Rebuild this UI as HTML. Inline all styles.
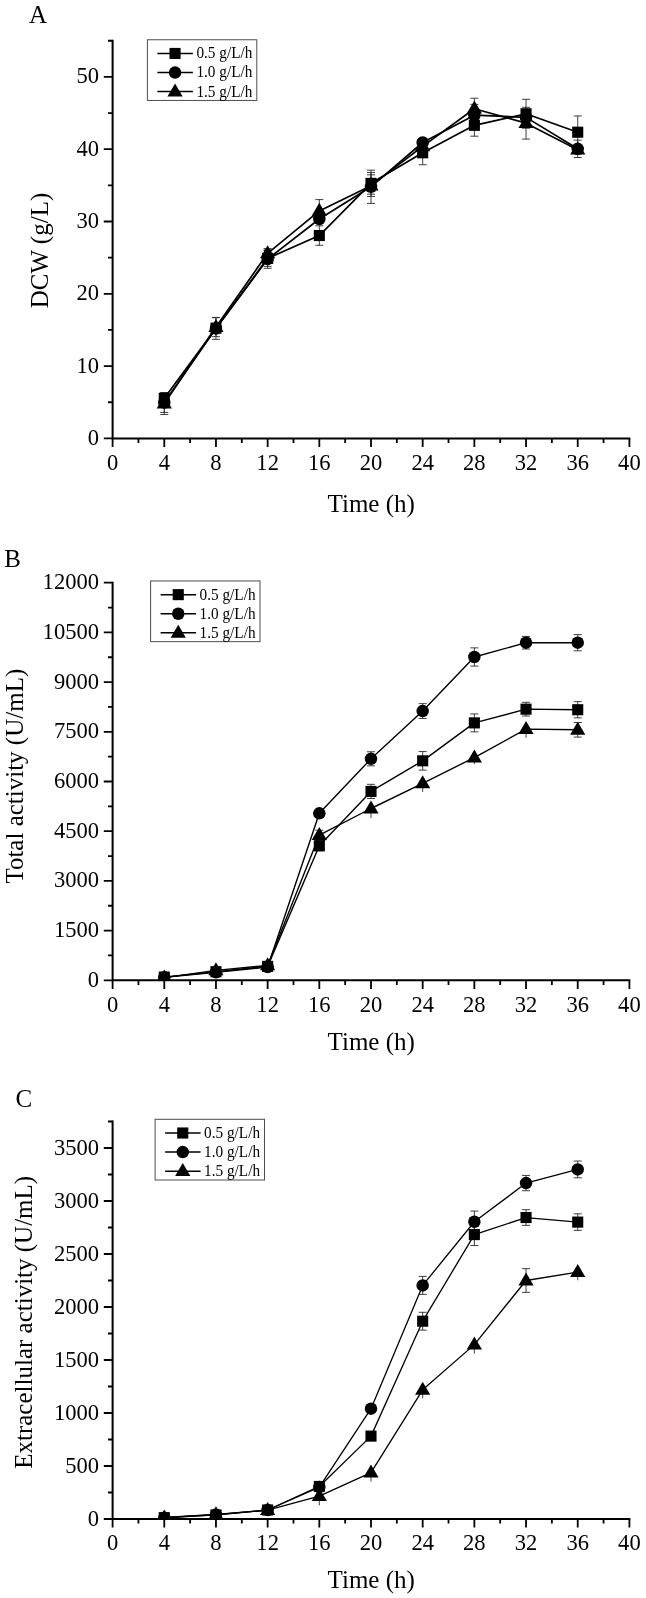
<!DOCTYPE html>
<html><head><meta charset="utf-8"><title>Figure</title>
<style>
html,body{margin:0;padding:0;background:#fff;}
body{width:646px;height:1598px;overflow:hidden;font-family:"Liberation Serif",serif;}
svg{display:block;filter:grayscale(1);}
text{font-family:"Liberation Serif",serif;fill:#000;}
.tk{font-size:24px;}
.ax{stroke:#000;stroke-width:2;fill:none;}
.ln{stroke:#000;fill:none;stroke-linejoin:round;}
.eb{stroke:#2a2a2a;stroke-width:0.9;fill:none;}
.lg{font-size:15.9px;}
.al{font-size:25px;}
.lt{font-size:25px;}
</style></head><body>
<svg width="646" height="1598" viewBox="0 0 646 1598">
<rect width="646" height="1598" fill="#fff"/>
<!-- chart A -->
<clipPath id="cp0"><rect x="112.60" y="20.75" width="526.80" height="418.25"/></clipPath>
<text class="lt" x="29.0" y="23.3">A</text>
<g clip-path="url(#cp0)">
<path class="eb" d="M164.28 394.66V401.89M160.28 394.66h8M160.28 401.89h8M215.96 324.53V331.76M211.96 324.53h8M211.96 331.76h8M267.64 250.42V266.33M263.64 250.42h8M263.64 266.33h8M319.32 225.77V245.29M315.32 225.77h8M315.32 245.29h8M371.00 172.48V194.17M367.00 172.48h8M367.00 194.17h8M422.68 140.89V164.74M418.68 140.89h8M418.68 164.74h8M474.36 114.50V136.19M470.36 114.50h8M470.36 136.19h8M526.04 99.31V128.23M522.04 99.31h8M522.04 128.23h8M577.72 115.94V148.48M573.72 115.94h8M573.72 148.48h8M164.28 392.49V412.44M160.28 392.49h8M160.28 412.44h8M215.96 317.66V339.35M211.96 317.66h8M211.96 339.35h8M267.64 249.91V268.28M263.64 249.91h8M263.64 268.28h8M319.32 215.35V222.58M315.32 215.35h8M315.32 222.58h8M371.00 170.17V203.42M367.00 170.17h8M367.00 203.42h8M422.68 138.86V146.09M418.68 138.86h8M418.68 146.09h8M474.36 104.37V126.06M470.36 104.37h8M470.36 126.06h8M526.04 113.77V121.00M522.04 113.77h8M522.04 121.00h8M577.72 140.16V157.51M573.72 140.16h8M573.72 157.51h8M164.28 392.78V414.47M160.28 392.78h8M160.28 414.47h8M215.96 317.44V336.67M211.96 317.44h8M211.96 336.67h8M267.64 248.61V258.01M263.64 248.61h8M263.64 258.01h8M319.32 199.59V222.30M315.32 199.59h8M315.32 222.30h8M371.00 174.79V196.48M367.00 174.79h8M367.00 196.48h8M422.68 142.69V149.92M418.68 142.69h8M418.68 149.92h8M474.36 98.23V119.20M470.36 98.23h8M470.36 119.20h8M526.04 107.27V139.08M522.04 107.27h8M522.04 139.08h8M577.72 145.37V154.04M573.72 145.37h8M573.72 154.04h8"/>
<polyline class="ln" stroke-width="1.7" points="164.28,398.27 215.96,328.14 267.64,258.37 319.32,235.53 371.00,183.33 422.68,152.81 474.36,125.34 526.04,113.77 577.72,132.21"/>
<polyline class="ln" stroke-width="1.7" points="164.28,402.47 215.96,328.50 267.64,259.10 319.32,218.97 371.00,186.80 422.68,142.48 474.36,115.22 526.04,117.39 577.72,148.84"/>
<polyline class="ln" stroke-width="1.7" points="164.28,403.62 215.96,327.06 267.64,253.31 319.32,210.94 371.00,185.64 422.68,146.31 474.36,108.71 526.04,123.17 577.72,149.71"/>
<g><rect x="158.73" y="392.72" width="11.10" height="11.10"/><rect x="210.41" y="322.59" width="11.10" height="11.10"/><rect x="262.09" y="252.82" width="11.10" height="11.10"/><rect x="313.77" y="229.98" width="11.10" height="11.10"/><rect x="365.45" y="177.78" width="11.10" height="11.10"/><rect x="417.13" y="147.26" width="11.10" height="11.10"/><rect x="468.81" y="119.79" width="11.10" height="11.10"/><rect x="520.49" y="108.22" width="11.10" height="11.10"/><rect x="572.17" y="126.66" width="11.10" height="11.10"/></g>
<g><circle cx="164.28" cy="402.47" r="6.25"/><circle cx="215.96" cy="328.50" r="6.25"/><circle cx="267.64" cy="259.10" r="6.25"/><circle cx="319.32" cy="218.97" r="6.25"/><circle cx="371.00" cy="186.80" r="6.25"/><circle cx="422.68" cy="142.48" r="6.25"/><circle cx="474.36" cy="115.22" r="6.25"/><circle cx="526.04" cy="117.39" r="6.25"/><circle cx="577.72" cy="148.84" r="6.25"/></g>
<g><path d="M164.28 395.52L171.88 408.52H156.68Z"/><path d="M215.96 318.96L223.56 331.96H208.36Z"/><path d="M267.64 245.21L275.24 258.21H260.04Z"/><path d="M319.32 202.84L326.92 215.84H311.72Z"/><path d="M371.00 177.54L378.60 190.54H363.40Z"/><path d="M422.68 138.21L430.28 151.21H415.08Z"/><path d="M474.36 100.61L481.96 113.61H466.76Z"/><path d="M526.04 115.07L533.64 128.07H518.44Z"/><path d="M577.72 141.61L585.32 154.61H570.12Z"/></g>
</g>
<path class="ax" d="M112.60 39.85V439.40 M111.60 438.40H630.30"/>
<path class="ax" stroke-width="1.8" style="stroke-width:1.8" d="M112.60 438.40h-8.8 M112.60 366.10h-8.8 M112.60 293.80h-8.8 M112.60 221.50h-8.8 M112.60 149.20h-8.8 M112.60 76.90h-8.8 M112.60 402.25h-4.6 M112.60 329.95h-4.6 M112.60 257.65h-4.6 M112.60 185.35h-4.6 M112.60 113.05h-4.6 M112.60 40.75h-4.6 M112.60 438.40v8.6 M164.28 438.40v8.6 M215.96 438.40v8.6 M267.64 438.40v8.6 M319.32 438.40v8.6 M371.00 438.40v8.6 M422.68 438.40v8.6 M474.36 438.40v8.6 M526.04 438.40v8.6 M577.72 438.40v8.6 M629.40 438.40v8.6 M138.44 438.40v4.6 M190.12 438.40v4.6 M241.80 438.40v4.6 M293.48 438.40v4.6 M345.16 438.40v4.6 M396.84 438.40v4.6 M448.52 438.40v4.6 M500.20 438.40v4.6 M551.88 438.40v4.6 M603.56 438.40v4.6"/>
<text class="tk" transform="translate(99.0,444.90) scale(0.94,1)" text-anchor="end">0</text>
<text class="tk" transform="translate(99.0,372.60) scale(0.94,1)" text-anchor="end">10</text>
<text class="tk" transform="translate(99.0,300.30) scale(0.94,1)" text-anchor="end">20</text>
<text class="tk" transform="translate(99.0,228.00) scale(0.94,1)" text-anchor="end">30</text>
<text class="tk" transform="translate(99.0,155.70) scale(0.94,1)" text-anchor="end">40</text>
<text class="tk" transform="translate(99.0,83.40) scale(0.94,1)" text-anchor="end">50</text>
<text class="tk" transform="translate(112.60,469.70) scale(0.94,1)" text-anchor="middle">0</text>
<text class="tk" transform="translate(164.28,469.70) scale(0.94,1)" text-anchor="middle">4</text>
<text class="tk" transform="translate(215.96,469.70) scale(0.94,1)" text-anchor="middle">8</text>
<text class="tk" transform="translate(267.64,469.70) scale(0.94,1)" text-anchor="middle">12</text>
<text class="tk" transform="translate(319.32,469.70) scale(0.94,1)" text-anchor="middle">16</text>
<text class="tk" transform="translate(371.00,469.70) scale(0.94,1)" text-anchor="middle">20</text>
<text class="tk" transform="translate(422.68,469.70) scale(0.94,1)" text-anchor="middle">24</text>
<text class="tk" transform="translate(474.36,469.70) scale(0.94,1)" text-anchor="middle">28</text>
<text class="tk" transform="translate(526.04,469.70) scale(0.94,1)" text-anchor="middle">32</text>
<text class="tk" transform="translate(577.72,469.70) scale(0.94,1)" text-anchor="middle">36</text>
<text class="tk" transform="translate(629.40,469.70) scale(0.94,1)" text-anchor="middle">40</text>
<text class="al" x="371.2" y="511.6" text-anchor="middle">Time (h)</text>
<text class="al" transform="translate(47.7,250.5) rotate(-90)" text-anchor="middle">DCW (g/L)</text>
<rect x="147.4" y="39.75" width="109.4" height="60.7" fill="#fff" stroke="#4d4d4d" stroke-width="1"/>
<path class="ln" stroke-width="1.5" d="M157.40 53.45h35.5"/>
<rect x="169.50" y="47.90" width="11.10" height="11.10"/>
<text class="lg" transform="translate(196.40,58.35) scale(0.96,1)">0.5 g/L/h</text>
<path class="ln" stroke-width="1.5" d="M157.40 72.55h35.5"/>
<circle cx="175.05" cy="72.55" r="6.25"/>
<text class="lg" transform="translate(196.40,77.45) scale(0.96,1)">1.0 g/L/h</text>
<path class="ln" stroke-width="1.5" d="M157.40 91.60h35.5"/>
<path d="M175.05 83.50L182.65 96.50H167.45Z"/>
<text class="lg" transform="translate(196.40,96.50) scale(0.96,1)">1.5 g/L/h</text>
<!-- chart B -->
<clipPath id="cp1"><rect x="112.60" y="562.70" width="526.80" height="418.20"/></clipPath>
<text class="lt" x="4.2" y="567.1">B</text>
<g clip-path="url(#cp1)">
<path class="eb" d="M319.32 840.84V850.78M315.32 840.84h8M315.32 850.78h8M371.00 784.32V798.50M367.00 784.32h8M367.00 798.50h8M422.68 751.55V770.10M418.68 751.55h8M418.68 770.10h8M474.36 713.94V731.83M470.36 713.94h8M470.36 731.83h8M526.04 702.31V716.03M522.04 702.31h8M522.04 716.03h8M577.72 701.62V717.85M573.72 701.62h8M573.72 717.85h8M371.00 751.78V765.83M367.00 751.78h8M367.00 765.83h8M422.68 703.64V718.48M418.68 703.64h8M418.68 718.48h8M474.36 647.87V666.10M470.36 647.87h8M470.36 666.10h8M526.04 636.41V649.00M522.04 636.41h8M522.04 649.00h8M577.72 634.59V650.82M573.72 634.59h8M573.72 650.82h8M319.32 830.24V840.18M315.32 830.24h8M315.32 840.18h8M371.00 808.50V818.11M422.68 783.32V791.94M474.36 757.54V764.17M526.04 729.15V737.76M577.72 722.52V737.10M573.72 722.52h8M573.72 737.10h8"/>
<polyline class="ln" stroke-width="1.4" points="164.28,977.09 215.96,971.69 267.64,966.38 319.32,845.81 371.00,791.41 422.68,760.82 474.36,722.89 526.04,709.17 577.72,709.73"/>
<polyline class="ln" stroke-width="1.4" points="164.28,977.32 215.96,972.35 267.64,967.05 319.32,813.31 371.00,758.80 422.68,711.06 474.36,656.98 526.04,642.70 577.72,642.70"/>
<polyline class="ln" stroke-width="1.4" points="164.28,977.65 215.96,970.36 267.64,965.39 319.32,835.21 371.00,808.50 422.68,783.32 474.36,757.54 526.04,729.15 577.72,729.81"/>
<g><rect x="158.73" y="971.54" width="11.10" height="11.10"/><rect x="210.41" y="966.14" width="11.10" height="11.10"/><rect x="262.09" y="960.83" width="11.10" height="11.10"/><rect x="313.77" y="840.26" width="11.10" height="11.10"/><rect x="365.45" y="785.86" width="11.10" height="11.10"/><rect x="417.13" y="755.27" width="11.10" height="11.10"/><rect x="468.81" y="717.34" width="11.10" height="11.10"/><rect x="520.49" y="703.62" width="11.10" height="11.10"/><rect x="572.17" y="704.18" width="11.10" height="11.10"/></g>
<g><circle cx="164.28" cy="977.32" r="6.25"/><circle cx="215.96" cy="972.35" r="6.25"/><circle cx="267.64" cy="967.05" r="6.25"/><circle cx="319.32" cy="813.31" r="6.25"/><circle cx="371.00" cy="758.80" r="6.25"/><circle cx="422.68" cy="711.06" r="6.25"/><circle cx="474.36" cy="656.98" r="6.25"/><circle cx="526.04" cy="642.70" r="6.25"/><circle cx="577.72" cy="642.70" r="6.25"/></g>
<g><path d="M164.28 969.55L171.88 982.55H156.68Z"/><path d="M215.96 962.26L223.56 975.26H208.36Z"/><path d="M267.64 957.29L275.24 970.29H260.04Z"/><path d="M319.32 827.11L326.92 840.11H311.72Z"/><path d="M371.00 800.40L378.60 813.40H363.40Z"/><path d="M422.68 775.22L430.28 788.22H415.08Z"/><path d="M474.36 749.44L481.96 762.44H466.76Z"/><path d="M526.04 721.05L533.64 734.05H518.44Z"/><path d="M577.72 721.71L585.32 734.71H570.12Z"/></g>
</g>
<path class="ax" d="M112.60 581.80V981.30 M111.60 980.30H630.30"/>
<path class="ax" stroke-width="1.8" style="stroke-width:1.8" d="M112.60 980.30h-8.8 M112.60 930.60h-8.8 M112.60 880.90h-8.8 M112.60 831.20h-8.8 M112.60 781.50h-8.8 M112.60 731.80h-8.8 M112.60 682.10h-8.8 M112.60 632.40h-8.8 M112.60 582.70h-8.8 M112.60 955.45h-4.6 M112.60 905.75h-4.6 M112.60 856.05h-4.6 M112.60 806.35h-4.6 M112.60 756.65h-4.6 M112.60 706.95h-4.6 M112.60 657.25h-4.6 M112.60 607.55h-4.6 M112.60 980.30v8.6 M164.28 980.30v8.6 M215.96 980.30v8.6 M267.64 980.30v8.6 M319.32 980.30v8.6 M371.00 980.30v8.6 M422.68 980.30v8.6 M474.36 980.30v8.6 M526.04 980.30v8.6 M577.72 980.30v8.6 M629.40 980.30v8.6 M138.44 980.30v4.6 M190.12 980.30v4.6 M241.80 980.30v4.6 M293.48 980.30v4.6 M345.16 980.30v4.6 M396.84 980.30v4.6 M448.52 980.30v4.6 M500.20 980.30v4.6 M551.88 980.30v4.6 M603.56 980.30v4.6"/>
<text class="tk" transform="translate(99.0,986.80) scale(0.94,1)" text-anchor="end">0</text>
<text class="tk" transform="translate(99.0,937.10) scale(0.94,1)" text-anchor="end">1500</text>
<text class="tk" transform="translate(99.0,887.40) scale(0.94,1)" text-anchor="end">3000</text>
<text class="tk" transform="translate(99.0,837.70) scale(0.94,1)" text-anchor="end">4500</text>
<text class="tk" transform="translate(99.0,788.00) scale(0.94,1)" text-anchor="end">6000</text>
<text class="tk" transform="translate(99.0,738.30) scale(0.94,1)" text-anchor="end">7500</text>
<text class="tk" transform="translate(99.0,688.60) scale(0.94,1)" text-anchor="end">9000</text>
<text class="tk" transform="translate(99.0,638.90) scale(0.94,1)" text-anchor="end">10500</text>
<text class="tk" transform="translate(99.0,589.20) scale(0.94,1)" text-anchor="end">12000</text>
<text class="tk" transform="translate(112.60,1011.60) scale(0.94,1)" text-anchor="middle">0</text>
<text class="tk" transform="translate(164.28,1011.60) scale(0.94,1)" text-anchor="middle">4</text>
<text class="tk" transform="translate(215.96,1011.60) scale(0.94,1)" text-anchor="middle">8</text>
<text class="tk" transform="translate(267.64,1011.60) scale(0.94,1)" text-anchor="middle">12</text>
<text class="tk" transform="translate(319.32,1011.60) scale(0.94,1)" text-anchor="middle">16</text>
<text class="tk" transform="translate(371.00,1011.60) scale(0.94,1)" text-anchor="middle">20</text>
<text class="tk" transform="translate(422.68,1011.60) scale(0.94,1)" text-anchor="middle">24</text>
<text class="tk" transform="translate(474.36,1011.60) scale(0.94,1)" text-anchor="middle">28</text>
<text class="tk" transform="translate(526.04,1011.60) scale(0.94,1)" text-anchor="middle">32</text>
<text class="tk" transform="translate(577.72,1011.60) scale(0.94,1)" text-anchor="middle">36</text>
<text class="tk" transform="translate(629.40,1011.60) scale(0.94,1)" text-anchor="middle">40</text>
<text class="al" x="371.2" y="1050.4" text-anchor="middle">Time (h)</text>
<text class="al" transform="translate(23.25,776.2) rotate(-90)" text-anchor="middle">Total activity (U/mL)</text>
<rect x="150.6" y="580.95" width="109.4" height="60.7" fill="#fff" stroke="#4d4d4d" stroke-width="1"/>
<path class="ln" stroke-width="1.5" d="M160.60 594.65h35.5"/>
<rect x="172.70" y="589.10" width="11.10" height="11.10"/>
<text class="lg" transform="translate(199.60,599.55) scale(0.96,1)">0.5 g/L/h</text>
<path class="ln" stroke-width="1.5" d="M160.60 613.75h35.5"/>
<circle cx="178.25" cy="613.75" r="6.25"/>
<text class="lg" transform="translate(199.60,618.65) scale(0.96,1)">1.0 g/L/h</text>
<path class="ln" stroke-width="1.5" d="M160.60 632.80h35.5"/>
<path d="M178.25 624.70L185.85 637.70H170.65Z"/>
<text class="lg" transform="translate(199.60,637.70) scale(0.96,1)">1.5 g/L/h</text>
<!-- chart C -->
<clipPath id="cp2"><rect x="112.60" y="1101.50" width="526.80" height="418.10"/></clipPath>
<text class="lt" x="15.5" y="1107.2">C</text>
<g clip-path="url(#cp2)">
<path class="eb" d="M422.68 1312.30V1330.11M418.68 1312.30h8M418.68 1330.11h8M474.36 1223.68V1245.52M470.36 1223.68h8M470.36 1245.52h8M526.04 1209.69V1225.38M522.04 1209.69h8M522.04 1225.38h8M577.72 1213.83V1230.36M573.72 1213.83h8M573.72 1230.36h8M422.68 1276.37V1294.39M418.68 1276.37h8M418.68 1294.39h8M474.36 1211.07V1232.48M470.36 1211.07h8M470.36 1232.48h8M526.04 1175.45V1190.72M522.04 1175.45h8M522.04 1190.72h8M577.72 1161.04V1177.79M573.72 1161.04h8M573.72 1177.79h8M319.32 1496.10V1505.33M371.00 1472.57V1481.58M422.68 1389.79V1398.27M474.36 1344.63V1353.64M526.04 1268.63V1292.37M522.04 1268.63h8M522.04 1292.37h8M577.72 1272.02V1280.29"/>
<polyline class="ln" stroke-width="1.3" points="164.28,1517.62 215.96,1514.97 267.64,1509.99 319.32,1486.46 371.00,1436.11 422.68,1321.20 474.36,1234.60 526.04,1217.54 577.72,1222.09"/>
<polyline class="ln" stroke-width="1.3" points="164.28,1517.73 215.96,1514.76 267.64,1509.99 319.32,1487.09 371.00,1408.65 422.68,1285.38 474.36,1221.78 526.04,1183.09 577.72,1169.41"/>
<polyline class="ln" stroke-width="1.3" points="164.28,1517.52 215.96,1514.44 267.64,1510.20 319.32,1496.10 371.00,1472.57 422.68,1389.79 474.36,1344.63 526.04,1280.50 577.72,1272.02"/>
<g><rect x="158.73" y="1512.07" width="11.10" height="11.10"/><rect x="210.41" y="1509.42" width="11.10" height="11.10"/><rect x="262.09" y="1504.44" width="11.10" height="11.10"/><rect x="313.77" y="1480.91" width="11.10" height="11.10"/><rect x="365.45" y="1430.56" width="11.10" height="11.10"/><rect x="417.13" y="1315.65" width="11.10" height="11.10"/><rect x="468.81" y="1229.05" width="11.10" height="11.10"/><rect x="520.49" y="1211.99" width="11.10" height="11.10"/><rect x="572.17" y="1216.54" width="11.10" height="11.10"/></g>
<g><circle cx="164.28" cy="1517.73" r="6.25"/><circle cx="215.96" cy="1514.76" r="6.25"/><circle cx="267.64" cy="1509.99" r="6.25"/><circle cx="319.32" cy="1487.09" r="6.25"/><circle cx="371.00" cy="1408.65" r="6.25"/><circle cx="422.68" cy="1285.38" r="6.25"/><circle cx="474.36" cy="1221.78" r="6.25"/><circle cx="526.04" cy="1183.09" r="6.25"/><circle cx="577.72" cy="1169.41" r="6.25"/></g>
<g><path d="M164.28 1509.42L171.88 1522.42H156.68Z"/><path d="M215.96 1506.34L223.56 1519.34H208.36Z"/><path d="M267.64 1502.10L275.24 1515.10H260.04Z"/><path d="M319.32 1488.00L326.92 1501.00H311.72Z"/><path d="M371.00 1464.47L378.60 1477.47H363.40Z"/><path d="M422.68 1381.69L430.28 1394.69H415.08Z"/><path d="M474.36 1336.53L481.96 1349.53H466.76Z"/><path d="M526.04 1272.40L533.64 1285.40H518.44Z"/><path d="M577.72 1263.92L585.32 1276.92H570.12Z"/></g>
</g>
<path class="ax" d="M112.60 1120.60V1520.00 M111.60 1519.00H630.30"/>
<path class="ax" stroke-width="1.8" style="stroke-width:1.8" d="M112.60 1519.00h-8.8 M112.60 1466.00h-8.8 M112.60 1413.00h-8.8 M112.60 1360.00h-8.8 M112.60 1307.00h-8.8 M112.60 1254.00h-8.8 M112.60 1201.00h-8.8 M112.60 1148.00h-8.8 M112.60 1492.50h-4.6 M112.60 1439.50h-4.6 M112.60 1386.50h-4.6 M112.60 1333.50h-4.6 M112.60 1280.50h-4.6 M112.60 1227.50h-4.6 M112.60 1174.50h-4.6 M112.60 1121.50h-4.6 M112.60 1519.00v8.6 M164.28 1519.00v8.6 M215.96 1519.00v8.6 M267.64 1519.00v8.6 M319.32 1519.00v8.6 M371.00 1519.00v8.6 M422.68 1519.00v8.6 M474.36 1519.00v8.6 M526.04 1519.00v8.6 M577.72 1519.00v8.6 M629.40 1519.00v8.6 M138.44 1519.00v4.6 M190.12 1519.00v4.6 M241.80 1519.00v4.6 M293.48 1519.00v4.6 M345.16 1519.00v4.6 M396.84 1519.00v4.6 M448.52 1519.00v4.6 M500.20 1519.00v4.6 M551.88 1519.00v4.6 M603.56 1519.00v4.6"/>
<text class="tk" transform="translate(99.0,1525.50) scale(0.94,1)" text-anchor="end">0</text>
<text class="tk" transform="translate(99.0,1472.50) scale(0.94,1)" text-anchor="end">500</text>
<text class="tk" transform="translate(99.0,1419.50) scale(0.94,1)" text-anchor="end">1000</text>
<text class="tk" transform="translate(99.0,1366.50) scale(0.94,1)" text-anchor="end">1500</text>
<text class="tk" transform="translate(99.0,1313.50) scale(0.94,1)" text-anchor="end">2000</text>
<text class="tk" transform="translate(99.0,1260.50) scale(0.94,1)" text-anchor="end">2500</text>
<text class="tk" transform="translate(99.0,1207.50) scale(0.94,1)" text-anchor="end">3000</text>
<text class="tk" transform="translate(99.0,1154.50) scale(0.94,1)" text-anchor="end">3500</text>
<text class="tk" transform="translate(112.60,1550.30) scale(0.94,1)" text-anchor="middle">0</text>
<text class="tk" transform="translate(164.28,1550.30) scale(0.94,1)" text-anchor="middle">4</text>
<text class="tk" transform="translate(215.96,1550.30) scale(0.94,1)" text-anchor="middle">8</text>
<text class="tk" transform="translate(267.64,1550.30) scale(0.94,1)" text-anchor="middle">12</text>
<text class="tk" transform="translate(319.32,1550.30) scale(0.94,1)" text-anchor="middle">16</text>
<text class="tk" transform="translate(371.00,1550.30) scale(0.94,1)" text-anchor="middle">20</text>
<text class="tk" transform="translate(422.68,1550.30) scale(0.94,1)" text-anchor="middle">24</text>
<text class="tk" transform="translate(474.36,1550.30) scale(0.94,1)" text-anchor="middle">28</text>
<text class="tk" transform="translate(526.04,1550.30) scale(0.94,1)" text-anchor="middle">32</text>
<text class="tk" transform="translate(577.72,1550.30) scale(0.94,1)" text-anchor="middle">36</text>
<text class="tk" transform="translate(629.40,1550.30) scale(0.94,1)" text-anchor="middle">40</text>
<text class="al" x="371.2" y="1587.6" text-anchor="middle">Time (h)</text>
<text class="al" transform="translate(31.9,1322.3) rotate(-90)" text-anchor="middle">Extracellular activity (U/mL)</text>
<rect x="155.1" y="1119.3" width="109.4" height="60.7" fill="#fff" stroke="#4d4d4d" stroke-width="1"/>
<path class="ln" stroke-width="1.5" d="M165.10 1133.00h35.5"/>
<rect x="177.20" y="1127.45" width="11.10" height="11.10"/>
<text class="lg" transform="translate(204.10,1137.90) scale(0.96,1)">0.5 g/L/h</text>
<path class="ln" stroke-width="1.5" d="M165.10 1152.10h35.5"/>
<circle cx="182.75" cy="1152.10" r="6.25"/>
<text class="lg" transform="translate(204.10,1157.00) scale(0.96,1)">1.0 g/L/h</text>
<path class="ln" stroke-width="1.5" d="M165.10 1171.15h35.5"/>
<path d="M182.75 1163.05L190.35 1176.05H175.15Z"/>
<text class="lg" transform="translate(204.10,1176.05) scale(0.96,1)">1.5 g/L/h</text>
</svg></body></html>
